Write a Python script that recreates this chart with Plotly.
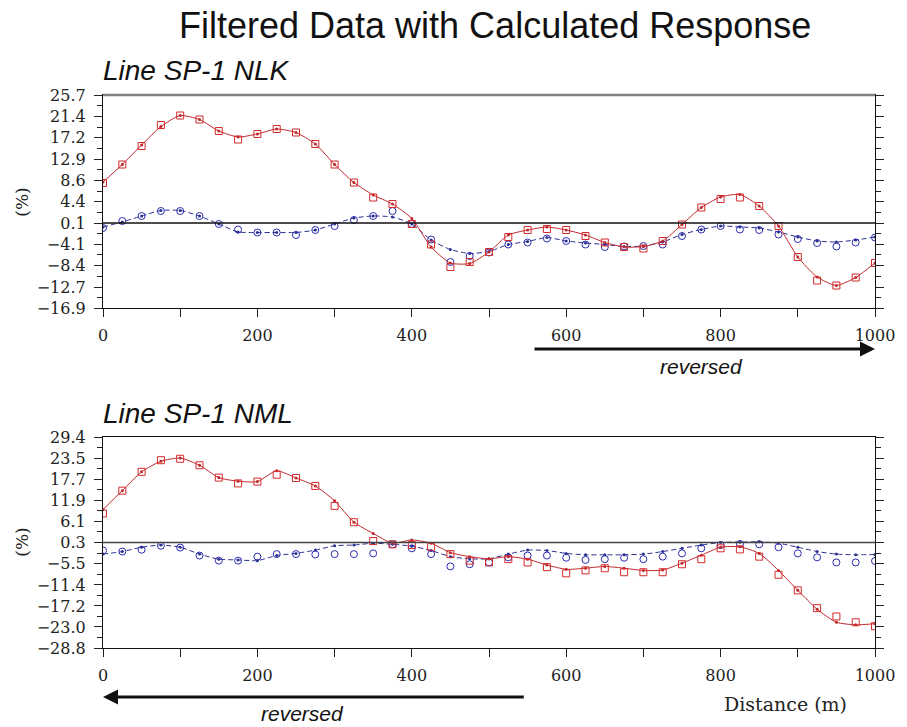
import plotly.graph_objects as go

# ---------------- data ----------------
distance = list(range(0, 1001, 25))

nlk_obs_red = [8.1, 11.8, 15.5, 19.7, 21.6, 20.8, 18.5, 16.8, 17.9, 18.9, 18.2, 15.9, 11.8, 8.2, 5.2, 3.9,
               -0.1, -4.2, -8.7, -7.7, -5.7, -2.7, -1.3, -1.1, -1.3, -2.5, -3.8, -4.7, -5.0, -3.5, -0.2,
               3.2, 4.9, 5.2, 3.5, -0.5, -6.7, -11.4, -12.4, -10.8, -7.9]
nlk_calc_red = [8.3, 11.8, 15.7, 19.4, 21.6, 20.8, 18.5, 17.3, 17.9, 18.9, 18.2, 15.9, 11.8, 8.2, 5.7, 3.9,
                1.0, -4.7, -7.9, -8.0, -5.7, -2.3, -1.3, -0.7, -1.3, -2.3, -3.8, -4.7, -4.6, -3.5, -0.2,
                3.2, 5.3, 5.8, 3.5, -0.5, -6.7, -10.7, -12.4, -10.8, -7.9]
nlk_obs_blue = [-0.9, 0.5, 1.5, 2.5, 2.5, 1.5, -0.1, -1.2, -1.8, -1.8, -2.3, -1.3, -0.5, 0.7, 1.5, 2.5,
                -0.1, -3.2, -7.7, -6.5, -5.8, -4.2, -3.8, -3.0, -3.5, -4.2, -4.7, -4.6, -4.5, -4.2, -2.5,
                -1.2, -0.5, -1.2, -1.3, -2.2, -3.1, -3.9, -4.6, -3.8, -2.8]
nlk_calc_blue = [-0.7, 0.3, 1.5, 2.6, 2.6, 1.5, -0.1, -1.7, -1.8, -1.8, -1.8, -1.3, -0.1, 1.1, 1.5, 1.3,
                 -0.1, -3.3, -5.2, -6.0, -5.6, -4.2, -3.6, -2.8, -3.5, -3.9, -4.2, -4.6, -4.5, -3.7, -2.2,
                 -1.2, -0.5, -0.7, -0.9, -1.7, -2.7, -3.5, -3.7, -3.3, -2.7]

nml_obs_red = [8.3, 14.6, 19.8, 23.0, 23.4, 21.6, 18.2, 16.6, 17.1, 19.0, 18.1, 15.9, 10.4, 5.9, 0.7, -0.2,
               -0.4, -0.9, -2.9, -4.7, -5.2, -4.3, -5.2, -6.5, -8.2, -7.4, -6.8, -7.9, -7.9, -7.9, -5.7,
               -4.3, -1.3, -1.6, -3.6, -8.6, -12.9, -17.8, -20.1, -21.7, -22.8]
nml_calc_red = [9.4, 14.6, 19.8, 22.7, 23.6, 21.6, 18.2, 17.2, 17.1, 20.1, 18.1, 15.9, 11.8, 5.9, 2.8, 0.1,
                1.0, 0.1, -2.5, -3.6, -4.2, -3.6, -4.3, -5.9, -7.1, -6.8, -6.3, -6.8, -7.4, -7.3, -5.4,
                -3.2, -1.0, -0.9, -2.7, -7.4, -12.9, -18.1, -21.7, -22.4, -22.1]
nml_obs_blue = [-1.9, -2.2, -1.7, -0.6, -1.1, -3.3, -4.7, -4.7, -3.6, -2.9, -2.9, -3.0, -2.9, -2.9, -2.7, -0.2,
                -1.3, -2.9, -6.3, -5.7, -5.2, -3.8, -3.3, -3.3, -3.9, -4.5, -4.3, -3.9, -4.3, -3.6, -2.7,
                -1.3, -0.4, -0.1, -0.2, -1.0, -2.7, -3.8, -5.2, -5.2, -4.8]
nml_calc_blue = [-2.9, -2.2, -1.0, -0.4, -1.0, -2.9, -4.3, -4.5, -4.7, -3.3, -2.7, -1.8, -0.6, -0.4, 0.1, -0.2,
                 -0.7, -1.9, -3.6, -4.2, -4.2, -2.9, -1.8, -1.9, -2.7, -3.1, -3.1, -3.1, -2.9, -2.2, -1.3,
                 -0.4, 0.3, 0.4, 0.5, 0.1, -1.0, -2.2, -2.9, -3.1, -3.0]

nlk_ticks = [-16.9, -12.7, -8.4, -4.1, 0.1, 4.4, 8.6, 12.9, 17.2, 21.4, 25.7]
nml_ticks = [-28.8, -23.0, -17.2, -11.4, -5.5, 0.3, 6.1, 11.9, 17.7, 23.5, 29.4]
x_ticks = [0, 200, 400, 600, 800, 1000]

title_text = "Filtered Data with Calculated Response"
panel_titles = ["Line SP-1 NLK", "Line SP-1 NML"]

# ---------------- figure ----------------
W, H = 907, 727
ML, MR, MT, MB = 103, 25, 95, 79
PH = H - MT - MB  # plot height in px


def py(ypx):
    return (H - MB - ypx) / PH


def px(xpx):
    return (xpx - ML) / (W - ML - MR)


RED_OBS = "#d42a2a"
RED_LINE = "#c0282d"
BLUE_OBS = "#2b2bb0"
BLUE_LINE = "#2a3290"

fig = go.Figure()

panels = [
    ("y", nlk_obs_red, nlk_calc_red, nlk_obs_blue, nlk_calc_blue),
    ("y2", nml_obs_red, nml_calc_red, nml_obs_blue, nml_calc_blue),
]
for yref, obs_r, calc_r, obs_b, calc_b in panels:
    xa = "x" if yref == "y" else "x2"
    fig.add_trace(go.Scatter(x=distance, y=calc_b, xaxis=xa, yaxis=yref, mode="lines+markers",
                             line=dict(color=BLUE_LINE, width=1, dash="5px,3px", shape="spline", smoothing=0.6),
                             marker=dict(size=3, color=BLUE_LINE), showlegend=False))
    fig.add_trace(go.Scatter(x=distance, y=obs_b, xaxis=xa, yaxis=yref, mode="markers",
                             marker=dict(symbol="circle-open", size=7, color=BLUE_OBS, line=dict(width=1)),
                             showlegend=False))
    fig.add_trace(go.Scatter(x=distance, y=calc_r, xaxis=xa, yaxis=yref, mode="lines+markers",
                             line=dict(color=RED_LINE, width=1, shape="spline", smoothing=0.6),
                             marker=dict(size=3, color=RED_LINE), showlegend=False))
    fig.add_trace(go.Scatter(x=distance, y=obs_r, xaxis=xa, yaxis=yref, mode="markers",
                             marker=dict(symbol="square-open", size=7, color=RED_OBS, line=dict(width=1)),
                             showlegend=False))

tickfont = dict(family="DejaVu Serif", size=16, color="#222")

xcommon = dict(range=[0, 1000], tickvals=x_ticks, ticktext=[str(v) for v in x_ticks],
               ticks="outside", ticklen=8, tickwidth=1, tickcolor="#222",
               minor=dict(dtick=100, tick0=0, ticks="outside", ticklen=8, tickcolor="#222"),
               showline=True, linecolor="#111", linewidth=1.2, mirror=True,
               showgrid=False, zeroline=False, tickfont=tickfont, ticklabelstandoff=5)


def ycommon(ticks):
    mids = [(a + b) / 2 for a, b in zip(ticks[:-1], ticks[1:])]
    return dict(range=[ticks[0], ticks[-1]], tickvals=ticks, ticktext=[f"{t:.1f}".replace("-", "\u2212") for t in ticks],
                ticks="outside", ticklen=8, tickwidth=1, tickcolor="#222",
                minor=dict(tickvals=mids, ticks="outside", ticklen=5, tickcolor="#222"),
                showline=True, linecolor="#111", linewidth=1.2, mirror="ticks",
                showgrid=False, zeroline=False, tickfont=tickfont, ticklabelstandoff=5)


top_dom = [py(308), 1.0]
bot_dom = [0.0, py(437)]

fig.update_layout(
    width=W, height=H,
    margin=dict(l=ML, r=MR, t=MT, b=MB),
    paper_bgcolor="white", plot_bgcolor="white",
    xaxis=dict(domain=[0, 1], anchor="y", **xcommon),
    yaxis=dict(domain=top_dom, anchor="x", **ycommon(nlk_ticks)),
    xaxis2=dict(domain=[0, 1], anchor="y2", **xcommon),
    yaxis2=dict(domain=bot_dom, anchor="x2", **ycommon(nml_ticks)),
)

# reference lines at the middle tick value
fig.add_shape(type="line", xref="x domain", yref="y", x0=0, x1=1, y0=nlk_ticks[4], y1=nlk_ticks[4],
              line=dict(color="#111", width=1.3))
fig.add_shape(type="line", xref="x2 domain", yref="y2", x0=0, x1=1, y0=nml_ticks[5], y1=nml_ticks[5],
              line=dict(color="#444", width=1.3))
# grey top frame of upper panel
fig.add_shape(type="line", xref="x domain", yref="y domain", x0=0, x1=1, y0=1, y1=1,
              line=dict(color="#808080", width=2.5))

ann = []
ann.append(dict(text=title_text, xref="paper", yref="paper", x=px(499), y=py(25), xanchor="center",
                yanchor="middle", showarrow=False,
                font=dict(family="Liberation Sans, Arial", size=36, color="#111")))
ann.append(dict(text=f"<i>{panel_titles[0]}</i>", xref="paper", yref="paper", x=px(101), y=py(71),
                xanchor="left", yanchor="middle", showarrow=False,
                font=dict(family="Liberation Sans, Arial", size=28, color="#111")))
ann.append(dict(text=f"<i>{panel_titles[1]}</i>", xref="paper", yref="paper", x=px(101), y=py(413),
                xanchor="left", yanchor="middle", showarrow=False,
                font=dict(family="Liberation Sans, Arial", size=28, color="#111")))
for ycen in (202, 542):
    ann.append(dict(text="(%)", xref="paper", yref="paper", x=px(21), y=py(ycen), textangle=-90,
                    xanchor="center", yanchor="middle", showarrow=False,
                    font=dict(family="DejaVu Serif", size=17, color="#222")))
ann.append(dict(text="Distance (m)", xref="paper", yref="paper", x=px(792), y=py(704),
                xanchor="center", yanchor="middle", showarrow=False,
                font=dict(family="DejaVu Serif", size=19, color="#222")))
# arrows
ann.append(dict(text="", xref="x", yref="paper", x=1000, y=py(349), axref="x", ayref="pixel",
                ax=557, ay=0, showarrow=True, arrowhead=2, arrowsize=1, arrowwidth=3,
                arrowcolor="#111", standoff=0))
ann.append(dict(text="<i>reversed</i>", xref="x", yref="paper", x=775, y=py(366), xanchor="center",
                yanchor="middle", showarrow=False, font=dict(family="Liberation Sans, Arial", size=21, color="#111")))
ann.append(dict(text="", xref="x2", yref="paper", x=0, y=py(697), axref="x2", ayref="pixel",
                ax=547, ay=0, showarrow=True, arrowhead=2, arrowsize=1, arrowwidth=3,
                arrowcolor="#111", standoff=0))
ann.append(dict(text="<i>reversed</i>", xref="x2", yref="paper", x=259, y=py(713), xanchor="center",
                yanchor="middle", showarrow=False, font=dict(family="Liberation Sans, Arial", size=21, color="#111")))

fig.update_layout(annotations=ann)

fig.write_html("out.html")
